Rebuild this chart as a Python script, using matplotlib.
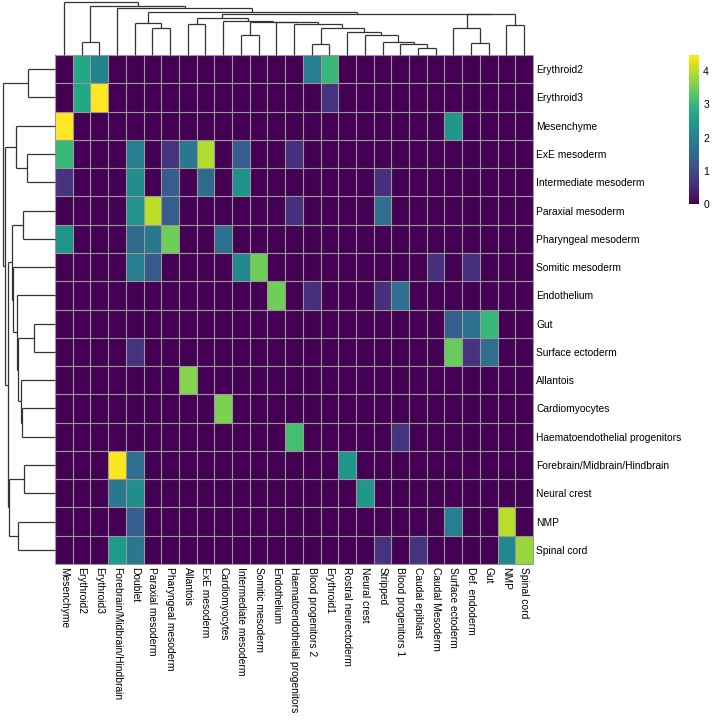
import numpy as np
import matplotlib
matplotlib.use("Agg")
import matplotlib.pyplot as plt

plt.rcParams['font.family'] = ['Liberation Sans', 'DejaVu Sans']

# ==== Data ====
row_labels = ["Erythroid2", "Erythroid3", "Mesenchyme", "ExE mesoderm",
              "Intermediate mesoderm", "Paraxial mesoderm", "Pharyngeal mesoderm",
              "Somitic mesoderm", "Endothelium", "Gut", "Surface ectoderm",
              "Allantois", "Cardiomyocytes", "Haematoendothelial progenitors",
              "Forebrain/Midbrain/Hindbrain", "Neural crest", "NMP", "Spinal cord"]

col_labels = ["Mesenchyme", "Erythroid2", "Erythroid3", "Forebrain/Midbrain/Hindbrain",
              "Doublet", "Paraxial mesoderm", "Pharyngeal mesoderm", "Allantois",
              "ExE mesoderm", "Cardiomyocytes", "Intermediate mesoderm",
              "Somitic mesoderm", "Endothelium", "Haematoendothelial progenitors",
              "Blood progenitors 2", "Erythroid1", "Rostral neurectoderm",
              "Neural crest", "Stripped", "Blood progenitors 1", "Caudal epiblast",
              "Caudal Mesoderm", "Surface ectoderm", "Def. endoderm", "Gut", "NMP",
              "Spinal cord"]

# one row per row label, one value per column label
scores = [
    [0, 2.7, 2.0, 0, 0, 0, 0, 0, 0,  0, 0, 0, 0, 0, 1.9, 3.0, 0, 0,  0, 0, 0, 0, 0, 0, 0, 0, 0],
    [0, 2.7, 4.49, 0, 0, 0, 0, 0, 0,  0, 0, 0, 0, 0, 0, 0.65, 0, 0,  0, 0, 0, 0, 0, 0, 0, 0, 0],
    [4.49, 0, 0, 0, 0, 0, 0, 0, 0,  0, 0, 0, 0, 0, 0, 0, 0, 0,  0, 0, 0, 0, 2.4, 0, 0, 0, 0],
    [3.0, 0, 0, 0, 1.9, 0, 0.65, 1.8, 3.95,  0, 1.3, 0, 0, 0.6, 0, 0, 0, 0,  0, 0, 0, 0, 0, 0, 0, 0, 0],
    [0.65, 0, 0, 0, 2.2, 0, 1.3, 0, 1.55,  0, 2.25, 0, 0, 0, 0, 0, 0, 0,  0.6, 0, 0, 0, 0, 0, 0, 0, 0],
    [0, 0, 0, 0, 2.3, 4.0, 1.3, 0, 0,  0, 0, 0, 0, 0.6, 0, 0, 0, 0,  1.6, 0, 0, 0, 0, 0, 0, 0, 0],
    [2.35, 0, 0, 0, 1.55, 1.8, 3.5, 0, 0,  1.6, 0, 0, 0, 0, 0, 0, 0, 0,  0, 0, 0, 0, 0, 0, 0, 0, 0],
    [0, 0, 0, 0, 1.9, 1.25, 0, 0, 0,  0, 2.1, 3.5, 0, 0, 0, 0, 0, 0,  0, 0, 0, 0.6, 0, 0.6, 0, 0, 0],
    [0, 0, 0, 0, 0, 0, 0, 0, 0,  0, 0, 0, 3.5, 0, 0.6, 0, 0, 0,  0.6, 1.6, 0, 0, 0, 0, 0, 0, 0],
    [0, 0, 0, 0, 0, 0, 0, 0, 0,  0, 0, 0, 0, 0, 0, 0, 0, 0,  0, 0, 0, 0, 1.3, 1.7, 3.0, 0, 0],
    [0, 0, 0, 0, 0.65, 0, 0, 0, 0,  0, 0, 0, 0, 0, 0, 0, 0, 0,  0, 0, 0, 0, 3.45, 0.65, 1.6, 0, 0],
    [0, 0, 0, 0, 0, 0, 0, 3.65, 0,  0, 0, 0, 0, 0, 0, 0, 0, 0,  0, 0, 0, 0, 0, 0, 0, 0, 0],
    [0, 0, 0, 0, 0, 0, 0, 0, 0,  3.6, 0, 0, 0, 0, 0, 0, 0, 0,  0, 0, 0, 0, 0, 0, 0, 0, 0],
    [0, 0, 0, 0, 0, 0, 0, 0, 0,  0, 0, 0, 0, 3.15, 0, 0, 0, 0,  0, 0.65, 0, 0, 0, 0, 0, 0, 0],
    [0, 0, 0, 4.45, 1.6, 0, 0, 0, 0,  0, 0, 0, 0, 0, 0, 0, 2.4, 0,  0, 0, 0, 0, 0, 0, 0, 0, 0],
    [0, 0, 0, 1.8, 2.2, 0, 0, 0, 0,  0, 0, 0, 0, 0, 0, 0, 0, 2.4,  0, 0, 0, 0, 0, 0, 0, 0, 0],
    [0, 0, 0, 0, 1.3, 0, 0, 0, 0,  0, 0, 0, 0, 0, 0, 0, 0, 0,  0, 0, 0, 0, 1.9, 0, 0, 4.0, 0],
    [0, 0, 0, 2.45, 1.8, 0, 0, 0, 0,  0, 0, 0, 0, 0, 0, 0, 0, 0,  0.65, 0, 0.65, 0, 0, 0, 0, 2.1, 3.8],
]

# dendrogram merges: (child a, child b, height); new nodes get ids n, n+1, ...
col_merges = [
    (1, 2, 13.3), (5, 6, 26.7), (4, 28, 31.7), (7, 8, 30.7), (10, 11, 20.0),
    (14, 15, 11.3), (20, 21, 6.7), (19, 33, 11.0), (18, 34, 12.7), (17, 35, 20.0),
    (16, 36, 22.7), (32, 37, 26.7), (13, 38, 31.0), (12, 39, 32.7), (31, 40, 33.3),
    (9, 41, 34.3), (30, 42, 37.5), (23, 24, 12.3), (22, 44, 26.7), (25, 26, 30.0),
    (45, 46, 40.7), (43, 47, 41.5), (29, 48, 42.7), (3, 49, 46.7), (27, 50, 48.7),
    (0, 51, 52.7),
]
row_merges = [
    (0, 1, 26.7), (3, 4, 27.7), (2, 19, 39.0), (5, 6, 32.3), (9, 10, 20.7),
    (12, 13, 33.3), (11, 23, 34.3), (22, 24, 36.7), (8, 25, 37.7), (7, 26, 41.7),
    (21, 27, 42.7), (14, 15, 31.0), (16, 17, 36.7), (29, 30, 45.7), (28, 31, 46.7),
    (20, 32, 50.5), (18, 33, 52.3),
]

data = np.array(scores)
n_rows, n_cols = data.shape


def dendro_segments(merges, n):
    pos = {i: i + 0.5 for i in range(n)}
    height = {i: 0.0 for i in range(n)}
    segs = []
    for k, (a, b, h) in enumerate(merges):
        segs.append(((pos[a], height[a]), (pos[a], h)))
        segs.append(((pos[b], height[b]), (pos[b], h)))
        segs.append(((pos[a], h), (pos[b], h)))
        pos[n + k] = (pos[a] + pos[b]) / 2
        height[n + k] = h
    return segs


# ==== Layout (pixels) ====
W = H = 720
fig = plt.figure(figsize=(7.2, 7.2), dpi=100)


def px_axes(x0, y0, x1, y1):
    return fig.add_axes([x0 / W, 1 - y1 / H, (x1 - x0) / W, (y1 - y0) / H])


# heatmap
ax = px_axes(55, 55, 533, 564)
mesh = ax.pcolormesh(data, cmap="viridis", vmin=0, vmax=4.49)
# cell borders (grey60)
ax.vlines(np.arange(n_cols + 1), 0, n_rows, color="#999999", lw=0.8, clip_on=False)
ax.hlines(np.arange(n_rows + 1), 0, n_cols, color="#999999", lw=0.8, clip_on=False)
ax.set_xlim(0, n_cols)
ax.set_ylim(n_rows, 0)
ax.set_xticks(np.arange(n_cols) + 0.5)
ax.set_xticklabels(col_labels, rotation=270, ha="center", va="top", fontsize=7.4)
ax.set_yticks(np.arange(n_rows) + 0.5)
ax.set_yticklabels(row_labels, fontsize=7.4)
ax.yaxis.tick_right()
ax.tick_params(length=0, pad=2.5)
for s in ax.spines.values():
    s.set_visible(False)

line_kw = dict(color="#333333", lw=0.9, clip_on=False, solid_capstyle="butt")

# column dendrogram
axc = px_axes(55, 0, 533, 55)
for (x0, y0), (x1, y1) in dendro_segments(col_merges, n_cols):
    axc.plot([x0, x1], [y0, y1], **line_kw)
axc.set_xlim(0, n_cols)
axc.set_ylim(0, 55)
axc.axis("off")

# row dendrogram
axr = px_axes(0, 55, 55, 564)
for (y0, x0), (y1, x1) in dendro_segments(row_merges, n_rows):
    axr.plot([x0, x1], [y0, y1], **line_kw)
axr.set_xlim(55, 0)
axr.set_ylim(n_rows, 0)
axr.axis("off")

# colour legend
cax = px_axes(689, 55, 699, 204)
cb = fig.colorbar(mesh, cax=cax, ticks=[0, 1, 2, 3, 4])
cb.outline.set_visible(False)
cax.tick_params(length=0, pad=3, labelsize=7.5)

fig.savefig("out.png", dpi=100)
